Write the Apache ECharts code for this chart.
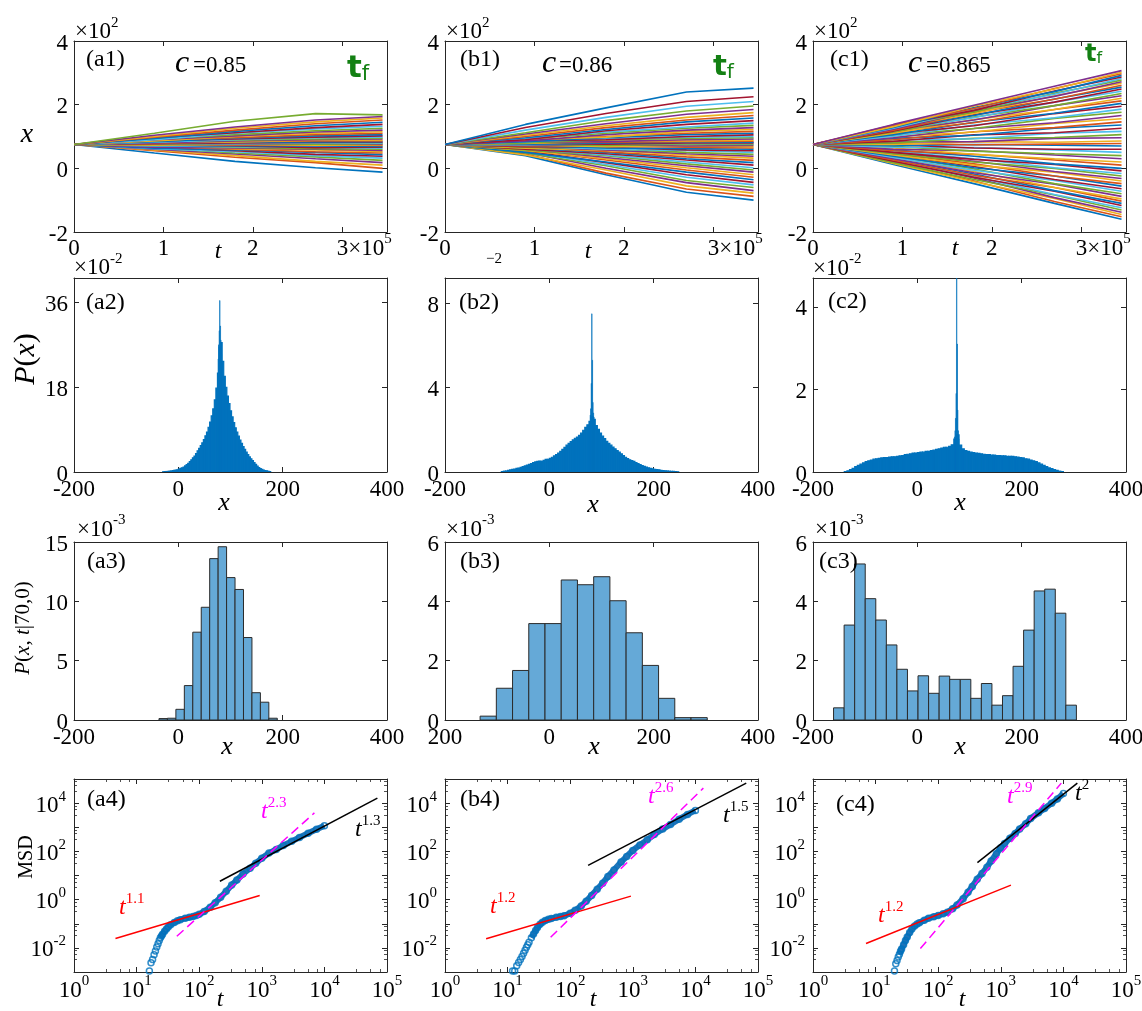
<!DOCTYPE html>
<html>
<head>
<meta charset="utf-8">
<title>Trajectories, position distributions and MSD for c = 0.85, 0.86, 0.865</title>
<script src="https://cdn.jsdelivr.net/npm/echarts@6.0.0/dist/echarts.min.js"></script>
<style>
  html, body { margin: 0; padding: 0; background: #fff; }
  #chart { width: 1142px; height: 1011px; }
</style>
</head>
<body>
<div id="chart"></div>
<script>
// ===================== data =====================
const cValues = ['0.85', '0.86', '0.865'];

// Row 1: sampled runs x(t). Every run starts at trajX0; each row gives x at trajT[1..4].
const trajT = [0, 0.9e5, 1.8e5, 2.7e5, 3.45e5];
const trajX0 = 75;
const trajA = [
  [48,22,2,-12],[55,35,18,0],[58,40,22,10],[60,45,30,18],[64,48,36,25],[62,52,40,32],[66,55,44,38],[63,58,50,43],[68,60,52,48],[70,62,58,52],
  [66,64,60,56],[72,66,62,60],[70,68,66,63],[74,70,65,66],[72,71,70,69],[76,73,74,72],[73,76,73,74],[78,75,77,76],[75,78,76,78],[79,77,80,80],
  [77,80,81,82],[80,82,83,84],[78,84,86,86],[82,83,88,89],[80,86,90,92],[84,88,92,95],[82,90,96,98],[86,92,98,102],[84,95,102,106],[88,96,106,110],
  [86,100,110,115],[90,102,114,120],[92,106,118,126],[90,110,124,132],[96,112,128,138],[94,116,134,145],[98,120,140,152],[100,126,146,158],[104,130,152,163],[110,148,172,168]
];
const trajB = [
  [40,-20,-75,-100],[45,-15,-65,-88],[42,-5,-55,-78],[50,0,-45,-70],[48,8,-38,-60],[52,12,-28,-52],[55,18,-20,-44],[50,20,-12,-36],[58,26,-5,-28],[56,30,2,-20],
  [60,34,8,-12],[58,40,14,-5],[62,42,20,2],[60,46,26,10],[64,50,30,18],[66,52,36,25],[63,56,42,32],[68,58,46,38],[66,62,50,44],[70,60,56,50],
  [68,66,58,55],[72,64,62,60],[70,70,66,64],[74,68,70,68],[72,74,70,72],[76,72,76,75],[74,78,78,78],[78,76,80,80],[76,80,82,82],[80,82,84,85],
  [78,86,86,88],[82,84,90,92],[80,90,94,96],[84,92,98,100],[86,90,100,105],[84,96,106,110],[88,100,110,116],[90,98,116,122],[86,106,120,128],[92,110,126,135],
  [94,114,130,142],[90,118,138,150],[96,122,146,158],[100,128,152,166],[104,134,160,175],[108,140,170,185],[112,150,180,196],[120,160,195,210],[128,172,210,225],[138,190,240,252]
];
const trajC = [
  [12,-48,-110,-160],[20,-40,-104,-152],[15,-42,-95,-145],[24,-30,-92,-138],[18,-35,-84,-131],[26,-26,-82,-124],[22,-28,-72,-117],[30,-18,-70,-110],[26,-22,-60,-103],[34,-10,-60,-96],
  [30,-14,-50,-88],[38,-2,-48,-80],[34,-6,-38,-72],[42,6,-35,-64],[38,2,-24,-56],[46,14,-24,-48],[42,10,-12,-40],[50,22,-10,-32],[46,20,0,-24],[54,30,2,-16],
  [50,28,12,-8],[58,38,14,0],[55,44,26,10],[64,44,30,20],[60,55,42,30],[69,54,46,40],[66,65,58,50],[74,64,60,60],[71,75,73,70],[79,74,76,78],
  [75,84,82,86],[83,84,94,96],[80,94,97,106],[89,93,110,116],[85,105,112,126],[94,104,126,136],[90,115,128,146],[99,114,141,156],[96,125,143,166],[104,125,157,176],
  [101,136,159,186],[109,134,172,195],[106,145,173,204],[114,143,185,212],[110,153,185,220],[118,152,197,228],[114,161,197,235],[121,159,208,242],[117,168,208,249],[125,166,218,255],
  [120,175,217,261],[128,172,228,267],[123,180,226,272],[131,177,236,277],[126,186,233,282],[133,182,243,287],[128,191,241,292],[136,188,251,297],[131,196,249,302],[138,198,258,307]
];

// Row 2: P(x) at t_f, in units of 1e-2 (body bins, then narrow bins at the central peak)
const a2Start = -30, a2Width = 3;
const a2Heights = [0.05,0.08,0.1,0.12,0.18,0.2,0.28,0.33,0.4,0.48,
  0.6,0.75,0.88,1.05,1.3,1.55,1.85,2.2,2.6,3.0,
  3.4,3.9,4.5,5.0,5.6,6.2,6.9,7.7,8.5,9.5,
  10.6,11.9,13.4,15.3,17.8,21.0,26.5,27.5,23.5,20.3,
  18.0,16.1,14.5,13.0,11.7,10.5,9.4,8.5,7.6,6.8,
  6.1,5.4,4.8,4.2,3.7,3.2,2.8,2.4,2.0,1.6,
  1.25,0.95,0.72,0.55,0.42,0.32,0.24,0.15,0.08];
const a2PeakStart = 76, a2PeakWidth = 1;
const a2Peak = [24, 27, 30, 36.4, 31, 28, 25];

const b2Start = -92, b2Width = 4;
const b2Heights = [0.02,0.04,0.05,0.08,0.1,0.12,0.14,0.17,0.19,0.22,
  0.26,0.29,0.33,0.36,0.4,0.45,0.48,0.5,0.52,0.5,
  0.55,0.6,0.6,0.65,0.7,0.76,0.83,0.9,0.98,1.07,
  1.17,1.27,1.36,1.44,1.52,1.6,1.66,1.74,1.84,1.98,
  2.12,2.24,2.4,2.62,2.5,2.2,2.02,1.85,1.7,1.58,
  1.45,1.36,1.27,1.18,1.1,1.02,0.94,0.86,0.78,0.7,
  0.64,0.58,0.54,0.5,0.45,0.4,0.35,0.3,0.27,0.23,
  0.2,0.17,0.15,0.13,0.11,0.1,0.08,0.07,0.06,0.05,
  0.04,0.03,0.03,0.02,0.01];
const b2PeakStart = 78, b2PeakWidth = 1;
const b2Peak = [2.7, 3.0, 4.2, 7.5, 5.3, 3.3, 2.8, 2.6];

const c2Start = -140, c2Width = 5;
const c2Heights = [0.01,0.03,0.06,0.09,0.13,0.16,0.19,0.22,0.25,0.27,
  0.29,0.31,0.32,0.33,0.34,0.35,0.35,0.36,0.37,0.37,
  0.38,0.39,0.4,0.42,0.43,0.44,0.46,0.46,0.47,0.48,
  0.48,0.5,0.5,0.52,0.53,0.55,0.56,0.58,0.6,0.6,
  0.62,0.66,0.8,0.9,0.65,0.56,0.52,0.5,0.48,0.47,
  0.46,0.45,0.44,0.43,0.42,0.42,0.41,0.41,0.4,0.4,
  0.39,0.39,0.38,0.38,0.38,0.37,0.36,0.35,0.34,0.32,
  0.31,0.29,0.27,0.25,0.22,0.19,0.16,0.13,0.1,0.08,
  0.06,0.04,0.02,0.01];
const c2PeakStart = 71, c2PeakWidth = 1;
const c2Peak = [0.85, 1.0, 1.3, 1.9, 4.7, 3.1, 1.5, 1.0, 0.8];

// Row 3: P(x, t|70,0), in units of 1e-3
const a3Start = -37.1, a3Width = 16.2;
const a3Heights = [0.12,0.15,0.9,2.9,7.4,9.5,13.6,14.6,12.0,11.0,6.95,2.3,1.5,0.15];
const b3Start = -132.7, b3Width = 31.1;
const b3Heights = [0.13,1.07,1.67,3.25,3.25,4.72,4.56,4.83,4.02,2.94,1.84,0.73,0.08,0.08];
const c3Start = -160.6, c3Width = 20.24;
const c3Heights = [0.41,3.2,5.26,4.09,3.37,2.53,1.71,0.98,1.49,0.9,1.48,1.37,1.37,0.73,1.23,0.5,0.82,1.81,3.03,4.35,4.41,3.6,0.5];

// Row 4: mean squared displacement
const a4T = [16,17,18,19,20,21,22,23,24,25,26,28,30,32,35,40,45,50,60,70,80,90,100,120,150,180,220,270,330,400,500,650,800,1000,1300,1700,2200,3000,4000,5500,7500,10000];
const a4Msd = [0.0011,0.0024,0.0033,0.0052,0.0075,0.011,0.015,0.02,0.026,0.031,0.037,0.049,0.061,0.074,0.09,0.113,0.132,0.148,0.17,0.185,0.2,0.22,0.245,0.32,0.48,0.75,1.25,2.2,4.0,6.5,11.5,20,32,52,85,120,175,260,380,560,820,1150];
const b4T = [12,13,14,15,16,17,18,19,20,21,22,24,26,28,30,33,36,40,45,50,60,70,80,100,120,150,180,220,270,330,400,500,650,800,1000,1300,1700,2200,3000,4000,5500,7500,10000];
const b4Msd = [0.0011,0.0011,0.0018,0.0025,0.0033,0.0044,0.006,0.008,0.0105,0.0135,0.017,0.026,0.038,0.052,0.07,0.095,0.115,0.135,0.152,0.165,0.185,0.2,0.215,0.27,0.36,0.55,0.85,1.5,2.7,4.8,9,17,36,62,110,185,300,500,840,1300,2150,3400,5000];
const c4T = [20,21,22,23,24,25,26,28,30,32,35,38,42,46,50,60,70,85,100,120,140,170,200,250,300,350,420,500,600,700,850,1000,1150,1400,1700,2000,2500,3000,4000,5000,6500,8000,10000];
const c4Msd = [0.0011,0.0022,0.003,0.0042,0.0055,0.0072,0.009,0.0135,0.02,0.028,0.043,0.06,0.08,0.097,0.11,0.14,0.17,0.195,0.22,0.26,0.3,0.42,0.6,1.1,2.0,3.5,7,12,22,40,80,140,210,350,550,850,1400,2300,4000,6000,10000,15000,25000];

// power-law guides [t, MSD] end points and their exponents
const a4Fits = { early: [[4.6, 0.0244], [925, 1.48]], mid: [[43.9, 0.0304], [6920, 3930]], late: [[214, 5.78], [70200, 16200]] };
const b4Fits = { early: [[4.54, 0.0237], [933, 1.40]], mid: [[48.7, 0.0277], [13400, 41900]], late: [[193, 26.3], [64900, 67600]] };
const c4Fits = { early: [[7.03, 0.0151], [1452, 4.0]], mid: [[51.9, 0.0094], [9250, 67400]], late: [[423, 33.9], [16700, 67400]] };
const fitExponents = [['1.1', '2.3', '1.3'], ['1.2', '2.6', '1.5'], ['1.2', '2.9', '2']];

// ===================== layout & styling =====================
const SERIF = 'Liberation Serif';
const INK = '#262626';
const LINE_COLORS = ['#0072BD', '#D95319', '#EDB120', '#7E2F8E', '#77AC30', '#4DBEEE', '#A2142F'];
const BAR_BLUE = '#0072BD';
const HIST_FILL = '#65a9d7';
const HIST_EDGE = '#2b2b2b';
const MSD_BLUE = '#0072BD';

const COLS = [74, 445, 813];
const PANEL_W = 313;
const ROWS = [[41, 191], [278, 194], [542, 178], [779, 193]];
const SUP_PAD = 13;

const tickRich = {
  b: { fontFamily: SERIF, fontSize: 23, color: '#000', lineHeight: 28, verticalAlign: 'bottom' },
  s: { fontFamily: SERIF, fontSize: 15, color: '#000', lineHeight: 12, padding: [0, 0, SUP_PAD, 0], verticalAlign: 'bottom' },
  pad: { width: 44, lineHeight: 28 }
};

const grids = [], xAxes = [], yAxes = [], series = [], graphics = [];

function onStep(v, step) { const q = v / step; return Math.abs(q - Math.round(q)) < 1e-6; }

function addPanel(row, col, xs, ys) {
  const gi = grids.length;
  grids.push({ left: COLS[col], top: ROWS[row][0], width: PANEL_W, height: ROWS[row][1], containLabel: false, outerBoundsMode: 'none' });
  const axisLine = { show: true, onZero: false, lineStyle: { color: INK, width: 1 } };
  const axisTick = { show: true, inside: true, length: 5, lineStyle: { color: INK, width: 1 } };
  const mk = (scale) => ({
    show: scale.type === 'log', splitNumber: 4, length: 3, lineStyle: { color: INK, width: 0.8 }
  });
  const common = { gridIndex: gi, axisLine, axisTick, splitLine: { show: false }, minorSplitLine: { show: false } };
  const lab = (extra) => Object.assign({ fontFamily: SERIF, fontSize: 23, color: '#000', rich: tickRich, hideOverlap: false }, extra);
  xAxes.push(Object.assign({}, common, xs.scale, { position: 'bottom', minorTick: mk(xs.scale),
    axisLabel: lab({ margin: xs.margin, formatter: xs.fmt }) }));
  xAxes.push(Object.assign({}, common, xs.scale, { position: 'top', minorTick: mk(xs.scale), axisLabel: { show: false } }));
  yAxes.push(Object.assign({}, common, ys.scale, { position: 'left', minorTick: mk(ys.scale),
    axisLabel: lab({ margin: ys.margin, formatter: ys.fmt }) }));
  yAxes.push(Object.assign({}, common, ys.scale, { position: 'right', minorTick: mk(ys.scale), axisLabel: { show: false } }));
  return { xAxisIndex: xAxes.length - 2, yAxisIndex: yAxes.length - 2 };
}

function histSeries(ax, start, width, heights, fill, stroke, lw) {
  const data = heights.map((h, i) => [start + i * width, start + (i + 1) * width, h]);
  return Object.assign({
    type: 'custom', data, clip: true, silent: true,
    encode: { x: [0, 1], y: 2 },
    renderItem: (params, api) => {
      const p = api.coord([api.value(0), api.value(2)]);
      const q = api.coord([api.value(1), 0]);
      return { type: 'rect', shape: { x: p[0], y: p[1], width: q[0] - p[0], height: q[1] - p[1] },
        style: { fill: fill, stroke: stroke, lineWidth: lw } };
    }
  }, ax);
}

function trajSeries(ax, runs) {
  runs.forEach((r, i) => {
    const pts = [[trajT[0], trajX0]].concat(r.map((v, k) => [trajT[k + 1], v]));
    series.push(Object.assign({ type: 'line', data: pts, symbol: 'none', silent: true, clip: true,
      lineStyle: { width: 1.6, color: LINE_COLORS[i % LINE_COLORS.length] } }, ax));
  });
}

function msdSeries(ax, ts, ms, fits) {
  const pts = ts.map((t, i) => [t, ms[i]]);
  series.push(Object.assign({ type: 'line', data: pts.filter(p => p[0] >= 24), symbol: 'none', silent: true,
    lineStyle: { width: 6, color: '#1f74b9' }, z: 2 }, ax));
  series.push(Object.assign({ type: 'scatter', data: pts, symbol: 'circle', symbolSize: 6, silent: true,
    itemStyle: { color: 'rgba(0,0,0,0)', borderColor: MSD_BLUE, borderWidth: 1.5 }, z: 3 }, ax));
  series.push(Object.assign({ type: 'line', data: fits.early, symbol: 'none', silent: true,
    lineStyle: { width: 1.5, color: '#ff0000' }, z: 4 }, ax));
  series.push(Object.assign({ type: 'line', data: fits.late, symbol: 'none', silent: true,
    lineStyle: { width: 1.5, color: '#000000' }, z: 4 }, ax));
  series.push(Object.assign({ type: 'line', data: fits.mid, symbol: 'none', silent: true,
    lineStyle: { width: 1.5, color: '#ff00ff', type: [9, 5] }, z: 4 }, ax));
}

// --- axis definitions ---
const xTraj = { scale: { type: 'value', min: 0, max: 3.5e5, interval: 1e5 }, margin: 0,
  fmt: v => { if (!onStep(v, 1e5)) return ''; const n = Math.round(v / 1e5);
    return n === 3 ? '{pad|\u00a0}{b|3\u00d710}{s|5}' : '{b|' + n + '}'; } };
const yTraj = { scale: { type: 'value', min: -200, max: 400, interval: 200 }, margin: 6,
  fmt: v => onStep(v, 200) ? '{b|' + Math.round(v / 100) + '}' : '' };
const xPos = (minusLost) => ({ scale: { type: 'value', min: -200, max: 400, interval: 200 }, margin: 1,
  fmt: v => onStep(v, 200) ? '{b|' + (minusLost && v === -200 ? '200' : v) + '}' : '' });
const yLin = (max, step) => ({ scale: { type: 'value', min: 0, max: max, interval: step }, margin: 6,
  fmt: v => onStep(v, step) ? '{b|' + Math.round(v) + '}' : '' });
const xLog = { scale: { type: 'log', logBase: 10, min: 1, max: 1e5, splitNumber: 5 }, margin: 2,
  fmt: v => { const l = Math.log10(v), e = Math.round(l);
    return Math.abs(l - e) < 1e-6 ? '{b|10}{s|' + e + '}' : ''; } };
const yLog = { scale: { type: 'log', logBase: 10, min: 1e-3, max: 1e5, splitNumber: 8 }, margin: 8,
  fmt: v => { const l = Math.log10(v), e = Math.round(l);
    return (Math.abs(l - e) < 1e-6 && e % 2 === 0 && e > -3 && e < 5) ? '{b|10}{s|' + e + '}' : ''; } };

// --- row 1: trajectories ---
[trajA, trajB, trajC].forEach((runs, c) => trajSeries(addPanel(0, c, xTraj, yTraj), runs));

// --- row 2: P(x) at t_f ---
const row2 = [
  [yLin(41.2, 18), a2Start, a2Width, a2Heights, a2PeakStart, a2PeakWidth, a2Peak],
  [yLin(9.2, 4), b2Start, b2Width, b2Heights, b2PeakStart, b2PeakWidth, b2Peak],
  [yLin(4.7, 2), c2Start, c2Width, c2Heights, c2PeakStart, c2PeakWidth, c2Peak]
];
row2.forEach((r, c) => {
  const ax = addPanel(1, c, xPos(false), r[0]);
  series.push(histSeries(ax, r[1], r[2], r[3], BAR_BLUE, BAR_BLUE, 1.2));
  series.push(histSeries(ax, r[4], r[5], r[6], BAR_BLUE, BAR_BLUE, 0.5));
});

// --- row 3: P(x, t|70,0) ---
const row3 = [
  [yLin(15, 5), false, a3Start, a3Width, a3Heights],
  [yLin(6, 2), true, b3Start, b3Width, b3Heights],
  [yLin(6, 2), false, c3Start, c3Width, c3Heights]
];
row3.forEach((r, c) => {
  const ax = addPanel(2, c, xPos(r[1]), r[0]);
  series.push(histSeries(ax, r[2], r[3], r[4], HIST_FILL, HIST_EDGE, 1));
});

// --- row 4: MSD ---
[[a4T, a4Msd, a4Fits], [b4T, b4Msd, b4Fits], [c4T, c4Msd, c4Fits]].forEach((r, c) => {
  msdSeries(addPanel(3, c, xLog, yLog), r[0], r[1], r[2]);
});

// ===================== text annotations =====================
function addText(x, y, text, opt) {
  const o = opt || {};
  graphics.push({
    type: 'text', x: x, y: y, rotation: o.rot || 0, silent: true, z: 100,
    style: Object.assign({
      text: text, fill: o.fill || '#000',
      fontFamily: o.family || SERIF, fontSize: o.size || 23,
      fontStyle: o.italic ? 'italic' : 'normal', fontWeight: o.weight || 'normal',
      align: o.align || 'left', textAlign: o.align || 'left',
      verticalAlign: o.va || 'middle', textVerticalAlign: o.va || 'middle'
    }, o.rich ? { rich: o.rich } : {})
  });
}
function supRich(fill, baseSize, supSize, italicBase) {
  return {
    b: { fontFamily: SERIF, fontSize: baseSize, fill: fill, lineHeight: 28, verticalAlign: 'bottom', fontStyle: italicBase ? 'italic' : 'normal' },
    s: { fontFamily: SERIF, fontSize: supSize, fill: fill, lineHeight: 12, padding: [0, 0, SUP_PAD, 0], verticalAlign: 'bottom' }
  };
}

// panel tags
const tags = [['(a1)', '(b1)', '(c1)'], ['(a2)', '(b2)', '(c2)'], ['(a3)', '(b3)', '(c3)'], ['(a4)', '(b4)', '(c4)']];
const tagX = [[86, 460, 830], [86, 459, 828], [87, 460, 819], [87, 460, 836]];
const tagY = [[60, 60, 60], [303, 303, 302], [562, 562, 562], [800, 800, 805]];
tags.forEach((row, r) => row.forEach((t, c) => addText(tagX[r][c], tagY[r][c], t, { size: 24 })));

// c = ... labels: italic c followed by the value
[[175, 193], [542, 559], [908, 926]].forEach((p, c) => {
  addText(p[0], 63.5, 'c', { size: 32, italic: true });
  addText(p[1], 66, '=' + cValues[c], { size: 23 });
});

// t_f labels
function tfRich(s) {
  return {
    t: { fontFamily: 'DejaVu Sans', fontWeight: 'bold', fontSize: s, fill: '#138013', lineHeight: s, verticalAlign: 'bottom' },
    f: { fontFamily: 'DejaVu Sans', fontSize: Math.round(s * 0.68), fill: '#138013', lineHeight: Math.round(s * 0.68), verticalAlign: 'bottom' }
  };
}
[[347, 80, 31], [713, 78, 29], [1085, 63, 24]].forEach(p =>
  addText(p[0], p[1] + 0.154 * p[2], '{t|t}{f|f}', { rich: tfRich(p[2]), va: 'bottom' }));

// scale multipliers
const mulRich = supRich('#000', 23, 15, false);
COLS.forEach(x => addText(x + 1, 29.5, '{b|\u00d710}{s|2}', { rich: mulRich }));
addText(COLS[0], 265.5, '{b|\u00d710}{s|-2}', { rich: mulRich });
addText(494, 259, '\u22122', { size: 15, align: 'center' });
addText(COLS[2], 266, '{b|\u00d710}{s|-2}', { rich: mulRich });
[77, 446, 815].forEach(x => addText(x, 527, '{b|\u00d710}{s|-3}', { rich: mulRich }));

// axis names
addText(27, 135, 'x', { size: 28, italic: true, align: 'center' });
addText(26, 359, '{i|P}{r|(}{i|x}{r|)}', { rot: Math.PI / 2, align: 'center', rich: {
  i: { fontFamily: SERIF, fontSize: 30, fontStyle: 'italic', fill: '#000' },
  r: { fontFamily: SERIF, fontSize: 30, fill: '#000' } } });
addText(23, 628, '{i|P}{r|(}{i|x}{r|, }{i|t}{r||70,0)}', { rot: Math.PI / 2, align: 'center', rich: {
  i: { fontFamily: SERIF, fontSize: 21, fontStyle: 'italic', fill: '#000' },
  r: { fontFamily: SERIF, fontSize: 21, fill: '#000' } } });
addText(27, 857, 'MSD', { size: 20, rot: Math.PI / 2, align: 'center' });

[[218, 252], [588, 252], [955, 249]].forEach(p => addText(p[0], p[1], 't', { size: 24, italic: true, align: 'center' }));
[[224, 503], [593, 505], [960, 503]].forEach(p => addText(p[0], p[1], 'x', { size: 26, italic: true, align: 'center' }));
[[227, 747], [594, 747], [960, 747]].forEach(p => addText(p[0], p[1], 'x', { size: 26, italic: true, align: 'center' }));
[[220, 1000], [593, 1000], [962, 1000]].forEach(p => addText(p[0], p[1], 't', { size: 24, italic: true, align: 'center' }));

// power-law labels
const fitLabelPos = [
  [[119, 920], [261, 824], [355, 842]],
  [[490, 919], [648, 809], [723, 828]],
  [[878, 928], [1007, 809], [1075, 806]]
];
const fitColors = ['#ff0000', '#ff00ff', '#000000'];
fitLabelPos.forEach((col, c) => col.forEach((p, k) => {
  addText(p[0], p[1], '{b|t}{s|' + fitExponents[c][k] + '}', { rich: supRich(fitColors[k], 24, 15, true), va: 'bottom' });
}));

// ===================== chart =====================
const chart = echarts.init(document.getElementById('chart'), null, { renderer: 'canvas' });
chart.setOption({
  animation: false,
  backgroundColor: '#ffffff',
  textStyle: { fontFamily: SERIF },
  grid: grids,
  xAxis: xAxes,
  yAxis: yAxes,
  series: series,
  graphic: { elements: graphics }
});
</script>
</body>
</html>
